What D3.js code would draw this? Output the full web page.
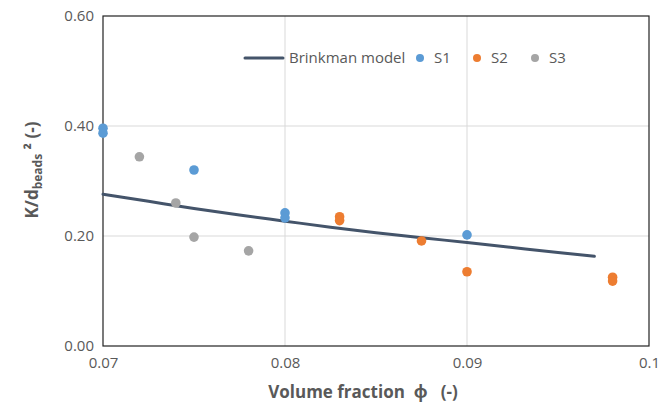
<html>
<head>
<meta charset="utf-8">
<script src="https://d3js.org/d3.v7.min.js"></script>
<style>
body { margin: 0; background: #fff; }
text { font-family: "Open Sans", "Noto Sans", sans-serif; white-space: pre; }
</style>
</head>
<body>
<div id="chart"></div>
<script>
// Brinkman model curve
var modelPhi = [0.07, 0.0725, 0.075, 0.0775, 0.08, 0.0825, 0.085, 0.0875, 0.09, 0.0925, 0.095, 0.097];
var modelK   = [0.276, 0.263, 0.250, 0.238, 0.227, 0.216, 0.206, 0.197, 0.188, 0.179, 0.170, 0.163];

// measured samples
var s1Phi = [0.07, 0.07, 0.075, 0.08, 0.08, 0.09];
var s1K   = [0.396, 0.387, 0.320, 0.242, 0.233, 0.202];
var s2Phi = [0.083, 0.083, 0.0875, 0.09, 0.098, 0.098];
var s2K   = [0.235, 0.228, 0.191, 0.135, 0.125, 0.118];
var s3Phi = [0.072, 0.074, 0.075, 0.078];
var s3K   = [0.344, 0.260, 0.198, 0.173];

var xTicks = [0.07, 0.08, 0.09, 0.1];
var yTicks = [0, 0.2, 0.4, 0.6];

var margin = {top: 16, right: 12, bottom: 61, left: 103},
    W = 661, H = 407,
    width = W - margin.left - margin.right,
    height = H - margin.top - margin.bottom;

var svg = d3.select("#chart").append("svg")
    .attr("width", W).attr("height", H);
var g = svg.append("g")
    .attr("transform", "translate(" + margin.left + "," + margin.top + ")");

var x = d3.scaleLinear().domain([0.07, 0.1]).range([0, width]);
var y = d3.scaleLinear().domain([0, 0.6]).range([height, 0]);

// gridlines
g.selectAll(".vgrid").data(xTicks.slice(1, -1)).enter().append("line")
  .attr("x1", d => x(d)).attr("x2", d => x(d))
  .attr("y1", 0).attr("y2", height)
  .attr("stroke", "#d9d9d9").attr("stroke-width", 1);
g.selectAll(".hgrid").data(yTicks.slice(1, -1)).enter().append("line")
  .attr("x1", 0).attr("x2", width)
  .attr("y1", d => y(d)).attr("y2", d => y(d))
  .attr("stroke", "#d9d9d9").attr("stroke-width", 1);

// plot border
g.append("rect").attr("x", 0).attr("y", 0)
  .attr("width", width).attr("height", height)
  .attr("fill", "none").attr("stroke", "#222").attr("stroke-width", 1.2);

// tick labels
var xAxis = g.append("g").attr("transform", "translate(0," + height + ")")
  .call(d3.axisBottom(x).tickValues(xTicks).tickSize(0).tickPadding(11)
    .tickFormat(d => d === 0.1 ? "0.1" : d3.format(".2f")(d)));
var yAxis = g.append("g")
  .call(d3.axisLeft(y).tickValues(yTicks).tickSize(0).tickPadding(9)
    .tickFormat(d3.format(".2f")));
[xAxis, yAxis].forEach(function(a) {
  a.select(".domain").remove();
  a.selectAll("text").attr("fill", "#595959").style("font-size", "15px")
    .style("font-family", "'Open Sans', sans-serif");
});

// model line
var line = d3.line().x(d => x(d[0])).y(d => y(d[1])).curve(d3.curveMonotoneX);
g.append("path").datum(d3.zip(modelPhi, modelK))
  .attr("d", line).attr("fill", "none")
  .attr("stroke", "#44546a").attr("stroke-width", 3).attr("stroke-linecap", "round");

// sample points
var series = [
  {name: "S1", phi: s1Phi, k: s1K, color: "#5b9bd5"},
  {name: "S2", phi: s2Phi, k: s2K, color: "#ed7d31"},
  {name: "S3", phi: s3Phi, k: s3K, color: "#a5a5a5"}
];
series.forEach(function(s) {
  g.selectAll(null).data(d3.zip(s.phi, s.k)).enter().append("circle")
    .attr("cx", d => x(d[0])).attr("cy", d => y(d[1]))
    .attr("r", 4.8).attr("fill", s.color);
});

// legend
var leg = svg.append("g").attr("transform", "translate(245,58)");
leg.append("line").attr("x1", 0).attr("x2", 38).attr("y1", 0).attr("y2", 0)
  .attr("stroke", "#44546a").attr("stroke-width", 3).attr("stroke-linecap", "round");
leg.append("text").attr("x", 44).attr("y", 5).text("Brinkman model")
  .attr("fill", "#595959").style("font-size", "15px");
var legX = [175, 232, 290];
series.forEach(function(s, i) {
  leg.append("circle").attr("cx", legX[i]).attr("cy", 0).attr("r", 4).attr("fill", s.color);
  leg.append("text").attr("x", legX[i] + 14).attr("y", 5).text(s.name)
    .attr("fill", "#595959").style("font-size", "15px");
});

// axis titles
svg.append("text").attr("x", 363).attr("y", 398).attr("text-anchor", "middle")
  .attr("fill", "#595959").style("font-size", "17px").style("font-weight", "bold")
  .text("Volume fraction  \u03d5   (-)");

var yt = svg.append("text")
  .attr("transform", "translate(38,170) rotate(-90)")
  .attr("text-anchor", "middle")
  .attr("fill", "#595959").style("font-size", "17px").style("font-weight", "bold");
yt.append("tspan").text("K/d");
yt.append("tspan").attr("dy", 4).style("font-size", "12px").text("beads");
yt.append("tspan").attr("dy", -4).text(" \u00b2 (-)");
</script>
</body>
</html>
